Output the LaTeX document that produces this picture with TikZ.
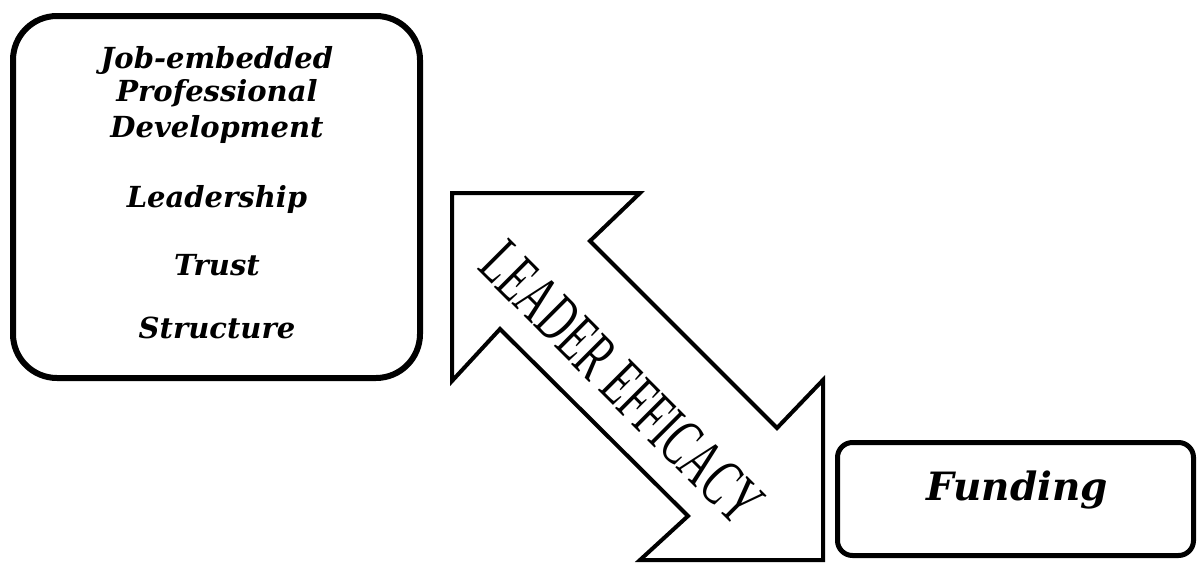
\documentclass[tikz,border=0pt]{standalone}
\usepackage{fontspec}
\usepackage{graphicx}
\newfontfamily\boxfont{DejaVu Serif}
\newfontfamily\arrowfont{Liberation Serif}
\begin{document}
\begin{tikzpicture}[x=1pt,y=-1pt,
  boxline/.style={draw=black,line width=6pt,rounded corners=44pt},
  fundline/.style={draw=black,line width=5pt,rounded corners=15pt},
  arrowline/.style={draw=black,line width=4pt,line join=miter,fill=white},
  item/.style={anchor=base,inner sep=0pt,font=\boxfont\bfseries\itshape\fontsize{29}{33}\selectfont},
  funditem/.style={anchor=base,inner sep=0pt,font=\boxfont\bfseries\itshape\fontsize{39}{45}\selectfont}]
\useasboundingbox (0,0) rectangle (1197,563);
% left box
\draw[boxline] (13,16) rectangle (420,378);
\node[item] (jep) at (217,68) {Job-embedded};
\node[item] (prof) at (217,101) {Professional};
\node[item] (dev) at (217,137) {Development};
\node[item] (lead) at (217,207) {Leadership};
\node[item] (trust) at (217,275) {Trust};
\node[item] (struct) at (217,338) {Structure};
% funding box
\draw[fundline] (837.5,442.5) rectangle (1193.5,555.5);
\node[funditem] (fund) at (1017,500) {Funding};
% double block arrow
\draw[arrowline] (452,193) -- (640,193) -- (590,241) -- (777,428) -- (823,380)
  -- (823,560) -- (640,560) -- (688,516) -- (500,329) -- (452,381) -- cycle;
\node[rotate=-45,inner sep=0pt] (eff) at (622,383)
  {\resizebox{368pt}{45pt}{\arrowfont LEADER EFFICACY}};
\end{tikzpicture}
\end{document}
